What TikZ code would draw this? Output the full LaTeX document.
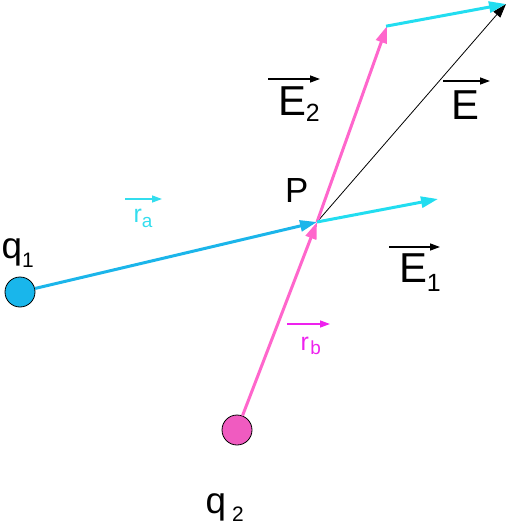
\documentclass[tikz,border=0pt]{standalone}
\usepackage{fontspec}
\setmainfont{Liberation Sans}
\usetikzlibrary{arrows.meta}
\definecolor{rablue}{HTML}{1BB5EA}
\definecolor{qone}{HTML}{19B6EB}
\definecolor{cyanv}{HTML}{22DDF0}
\definecolor{ralbl}{HTML}{33DDEE}
\definecolor{pinkv}{HTML}{FF66CC}
\definecolor{qtwo}{HTML}{F05BC0}
\definecolor{rblbl}{HTML}{EE22EE}
\tikzset{
  vecline/.style={line width=3bp, -{Triangle[length=17bp,width=11bp]}},
  charge/.style={circle, draw=black, line width=0.8bp, minimum size=30bp, inner sep=0pt},
  lbl/.style={anchor=base west, inner sep=0pt, outer sep=0pt},
  ovec/.style={line width=1.3bp, -{Triangle[length=10bp,width=7bp]}},
}
\newcommand{\bigf}{\fontsize{42}{42}\selectfont}
\newcommand{\subf}{\fontsize{25}{25}\selectfont}
\begin{document}
\begin{tikzpicture}[x=1bp,y=-1bp]
\useasboundingbox (0,0) rectangle (509,529);
% points
\coordinate (P) at (317,222);
\coordinate (E2tip) at (387,26);
\coordinate (Etip) at (506,4);
\coordinate (E1tip) at (438,199);
\node[charge, fill=qone] (q1) at (20,292) {};
\node[charge, fill=qtwo] (q2) at (237,430) {};
% vectors
\draw[line width=0.8bp, -{Triangle[length=14bp,width=9bp]}] (P) -- (Etip);
\draw[vecline, rablue] (q1) -- (P);
\draw[vecline, pinkv] (q2) -- (P);
\draw[vecline, pinkv] (P) -- (E2tip);
\draw[vecline, cyanv] (P) -- (E1tip);
\draw[vecline, cyanv, shorten <=-1bp] (E2tip) -- (Etip);
% labels
\node[lbl] (q1l) at (1.5,258) {\fontsize{37}{37}\selectfont q\raisebox{-9bp}{\fontsize{21}{21}\selectfont 1}};
\node[lbl] (q2l) at (205.5,513) {\fontsize{37}{37}\selectfont q\hspace{6bp}\raisebox{-8bp}{\fontsize{21}{21}\selectfont 2}};
\node[lbl] (Pl) at (285,203) {\fontsize{35}{35}\selectfont P};
\node[lbl] (E2l) at (278,116) {\bigf E\raisebox{-6bp}{\subf 2}};
\node[lbl] (El) at (451,120) {\bigf E};
\node[lbl] (E1l) at (399,282) {\bigf E\raisebox{-9bp}{\subf 1}};
\node[lbl, text=ralbl] (ral) at (133.5,222) {\fontsize{25}{25}\selectfont r\raisebox{-5bp}{\fontsize{19}{19}\selectfont a}};
\node[lbl, text=rblbl] (rbl) at (300.5,350) {\fontsize{25}{25}\selectfont r\hspace{1.5bp}\raisebox{-4bp}{\fontsize{19}{19}\selectfont b}};
% vector marks over labels
\draw[ovec] ([shift={(-10,-37)}]E2l.base west) -- ([shift={(42,-37)}]E2l.base west);
\draw[ovec] ([shift={(-8,-39)}]El.base west) -- ([shift={(39,-39)}]El.base west);
\draw[ovec] ([shift={(-10,-35)}]E1l.base west) -- ([shift={(41,-35)}]E1l.base west);
\draw[ovec, ralbl] ([shift={(-8.5,-23)}]ral.base west) -- ([shift={(28.5,-23)}]ral.base west);
\draw[ovec, rblbl] ([shift={(-13.5,-26)}]rbl.base west) -- ([shift={(29.5,-26)}]rbl.base west);
\end{tikzpicture}
\end{document}
